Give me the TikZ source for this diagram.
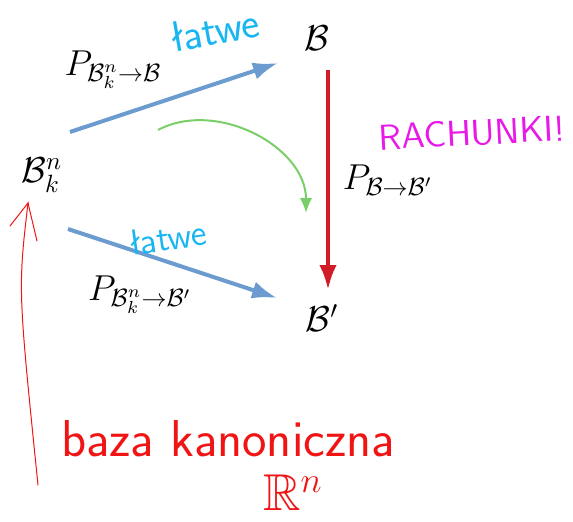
\documentclass[tikz,border=0pt]{standalone}
\usepackage{amsmath,amssymb}
\usepackage{xcolor}
\usepackage{tikz}
\usetikzlibrary{calc,arrows.meta}
\definecolor{basisblue}{RGB}{108,155,208}
\definecolor{hardred}{RGB}{208,28,38}
\definecolor{softgreen}{RGB}{122,206,104}
\definecolor{notecyan}{RGB}{24,182,240}
\definecolor{notemagenta}{RGB}{232,24,232}
\definecolor{notered}{RGB}{240,20,20}

\begin{document}
\begin{tikzpicture}[x=0.4pt,y=0.4pt,every node/.style={font=\Large},>={Latex[length=10pt,width=7pt]}]
    \useasboundingbox (0,0) rectangle (573,521);
    \node (B) at (317,483) {$\mathcal{B}$};
    \node (Bkn) at (42,346) {$\mathcal{B}_k^n$};
    \node (Bp) at (322,203) {$\mathcal{B}'$};
    \draw[->,basisblue,line width=1.6pt] ($(Bkn)+(28,43)$) -- ($(B)+(-39,-25)$);
    \draw[->,basisblue,line width=1.6pt] ($(Bkn)+(26,-54)$) -- ($(Bp)+(-45,20)$);
    \draw[->,hardred,line width=1.7pt] ($(B)+(11,-32)$) -- ($(Bp)+(6,28)$);
    \draw[->,softgreen,line width=0.8pt,>={Latex[length=6pt,width=5pt]}] ($(B)+(-159,-92)$) to[out=28,in=90] ($(Bp)+(-16,105)$);
    \node (pa) at (113,451) {$P_{\mathcal{B}_k^n\to\mathcal{B}}$};
    \node (pb) at (388,341) {$P_{\mathcal{B}\to\mathcal{B}'}$};
    \node (pc) at (140,226) {$P_{\mathcal{B}_k^n\to\mathcal{B}'}$};
    % notatki
    \node[notecyan,rotate=10,font=\LARGE\sffamily] (ea) at (215,491) {łatwe};
    \node[notecyan,rotate=8,font=\Large\sffamily] (eb) at (168,283) {łatwe};
    \node[notemagenta,rotate=3,font=\Large\sffamily] (hard) at (472,388) {RACHUNKI!};
    \node[notered,font=\huge\sffamily] (canon) at (228,82) {baza kanoniczna};
    \node[notered,font=\huge] (rn) at (293,28) {$\mathbb{R}^n$};
    \draw[notered,line width=0.4pt,line cap=round] ($(canon)+(-190,-46)$) .. controls ($(canon)+(-210,150)$) .. ($(canon)+(-200,236)$)
        coordinate (tip) -- ++(-18,-23);
    \draw[notered,line width=0.4pt,line cap=round] (tip) -- ++(9,-38);
  \end{tikzpicture}
\end{document}
